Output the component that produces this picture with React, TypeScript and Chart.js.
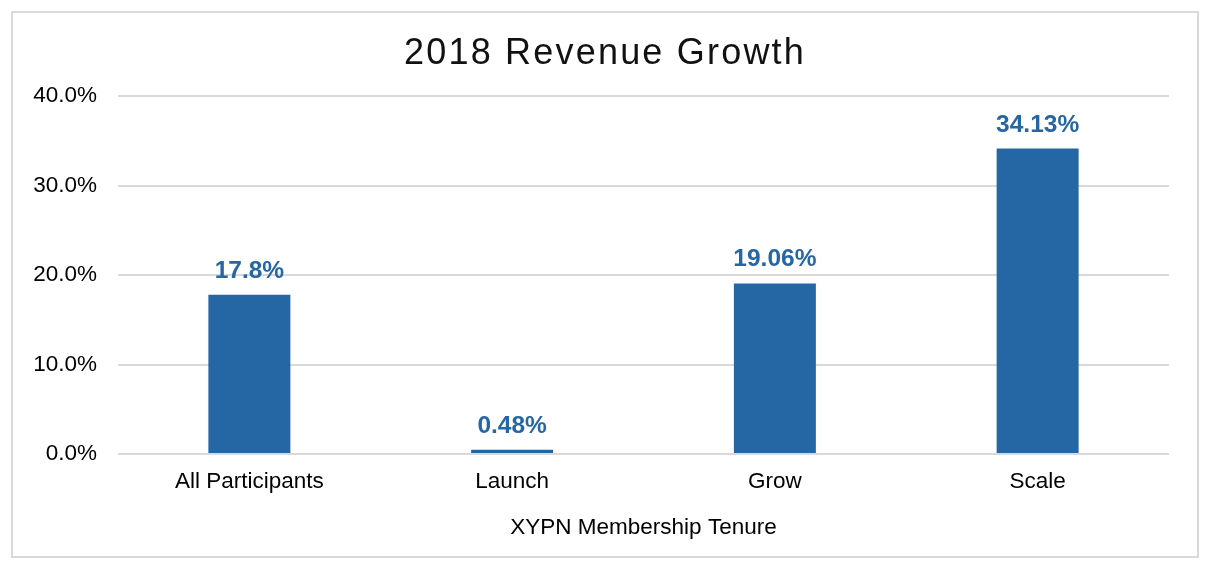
import React, { useEffect, useRef } from "react";
import { Chart, registerables } from "chart.js";

Chart.register(...registerables);

const categories = ["All Participants", "Launch", "Grow", "Scale"];
const revenueGrowth = [17.8, 0.48, 19.06, 34.13];
const valueLabels = ["17.8%", "0.48%", "19.06%", "34.13%"];
const yTicks = [0, 10, 20, 30, 40];
const chartTitle = "2018 Revenue Growth";
const xAxisTitle = "XYPN Membership Tenure";

const BLUE = "#2566a5";
const GRID = "#d9d9d9";
const FONT = "'Liberation Sans', Arial, sans-serif";

export default function App() {
  const ref = useRef<HTMLCanvasElement | null>(null);

  useEffect(() => {
    if (!ref.current) return;
    const decor = {
      id: "decor",
      beforeDraw(chart: any) {
        const ctx = chart.ctx;
        ctx.save();
        ctx.fillStyle = "#ffffff";
        ctx.fillRect(0, 0, chart.width, chart.height);
        ctx.strokeStyle = GRID;
        ctx.lineWidth = 2;
        ctx.strokeRect(12, 12, 1186, 545);
        ctx.restore();
      },
      afterDraw(chart: any) {
        const ctx = chart.ctx;
        ctx.save();
        ctx.font = `36px ${FONT}`;
        (ctx as any).letterSpacing = "2.2px";
        ctx.fillStyle = "#111111";
        ctx.textAlign = "center";
        ctx.textBaseline = "alphabetic";
        ctx.fillText(chartTitle, 605, 64);
        ctx.restore();
      },
      afterDatasetsDraw(chart: any) {
        const ctx = chart.ctx;
        const meta = chart.getDatasetMeta(0);
        ctx.save();
        ctx.font = `bold 24.5px ${FONT}`;
        ctx.fillStyle = BLUE;
        ctx.textAlign = "center";
        ctx.textBaseline = "alphabetic";
        meta.data.forEach((el: any, i: number) => {
          ctx.fillText(valueLabels[i], el.x, el.y - 17);
        });
        ctx.restore();
      },
    };

    const chart = new Chart(ref.current, {
      type: "bar",
      data: {
        labels: categories,
        datasets: [
          {
            data: revenueGrowth,
            backgroundColor: BLUE,
            borderWidth: 0,
            barPercentage: 0.312,
            categoryPercentage: 1,
          },
        ],
      },
      options: {
        responsive: false,
        animation: false,
        devicePixelRatio: 1,
        layout: { padding: { top: 96, right: 45, bottom: 0, left: 0 } },
        plugins: {
          legend: { display: false },
          title: { display: false },
          tooltip: { enabled: false },
        },
        scales: {
          x: {
            grid: { display: false },
            border: { display: false },
            ticks: {
              color: "#000000",
              font: { family: FONT, size: 22.5 },
              padding: 6,
            },
            title: {
              display: true,
              text: xAxisTitle,
              color: "#000000",
              font: { family: FONT, size: 22.5 },
              padding: { top: 0, bottom: 31 },
            },
            afterFit(scale: any) {
              scale.height = 118;
            },
          },
          y: {
            min: 0,
            max: 40,
            afterBuildTicks(scale: any) {
              scale.ticks = yTicks.map((v) => ({ value: v }));
            },
            grid: { color: GRID, lineWidth: 2, drawTicks: false },
            border: { display: false },
            ticks: {
              color: "#000000",
              font: { family: FONT, size: 22.5 },
              padding: 21,
              callback: (v: any) => Number(v).toFixed(1) + "%",
            },
            afterFit(scale: any) {
              scale.width = 118;
            },
          },
        },
      },
      plugins: [decor],
    });
    return () => chart.destroy();
  }, []);

  return (
    <div style={{ position: "absolute", left: 0, top: 0, width: 1214, height: 572 }}>
      <canvas ref={ref} width={1214} height={572} />
    </div>
  );
}
